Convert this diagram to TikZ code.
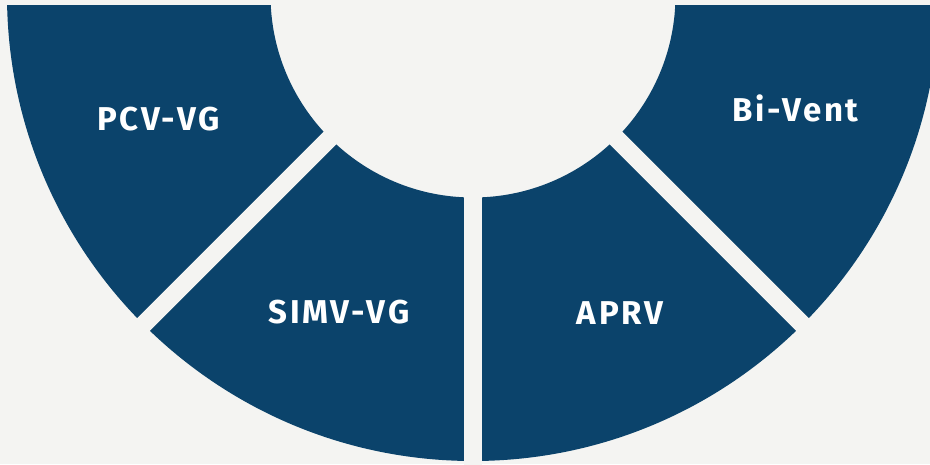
\documentclass[tikz,border=0pt]{standalone}
\usepackage{fontspec}
\setmainfont{Fira Sans}
\newfontfamily\lblfont[LetterSpace=8]{Fira Sans}
\definecolor{bgc}{RGB}{244,244,242}
\definecolor{segc}{RGB}{11,67,107}
\tikzset{
  lbl/.style={text=white, font=\lblfont\fontsize{33}{33}\selectfont\bfseries, anchor=base, inner sep=0pt},
  gap/.style={draw=bgc, line width=18pt}
}
\begin{document}
\begin{tikzpicture}[x=1pt,y=-1pt]
\useasboundingbox (0,0) rectangle (930,464);
\fill[bgc] (0,0) rectangle (930,464);
\coordinate (c) at (473,-5);
\begin{scope}
  \clip (0,5) rectangle (930,464);
  \fill[segc, even odd rule] (c) circle (466) (c) circle (202.5);
\end{scope}
\coordinate (gdown) at (473,480);
\coordinate (gleft) at (113,355);
\coordinate (gright) at (833,355);
\draw[gap] (c) -- (gdown);
\draw[gap] (c) -- (gleft);
\draw[gap] (c) -- (gright);
\node[lbl] (pcv) at (158.5,130.7) {PCV-VG};
\node[lbl] (bivent) at (795.5,121.7) {Bi-Vent};
\node[lbl] (simv) at (339,323.3) {SIMV-VG};
\node[lbl] (aprv) at (620,324) {APRV};
\end{tikzpicture}
\end{document}
